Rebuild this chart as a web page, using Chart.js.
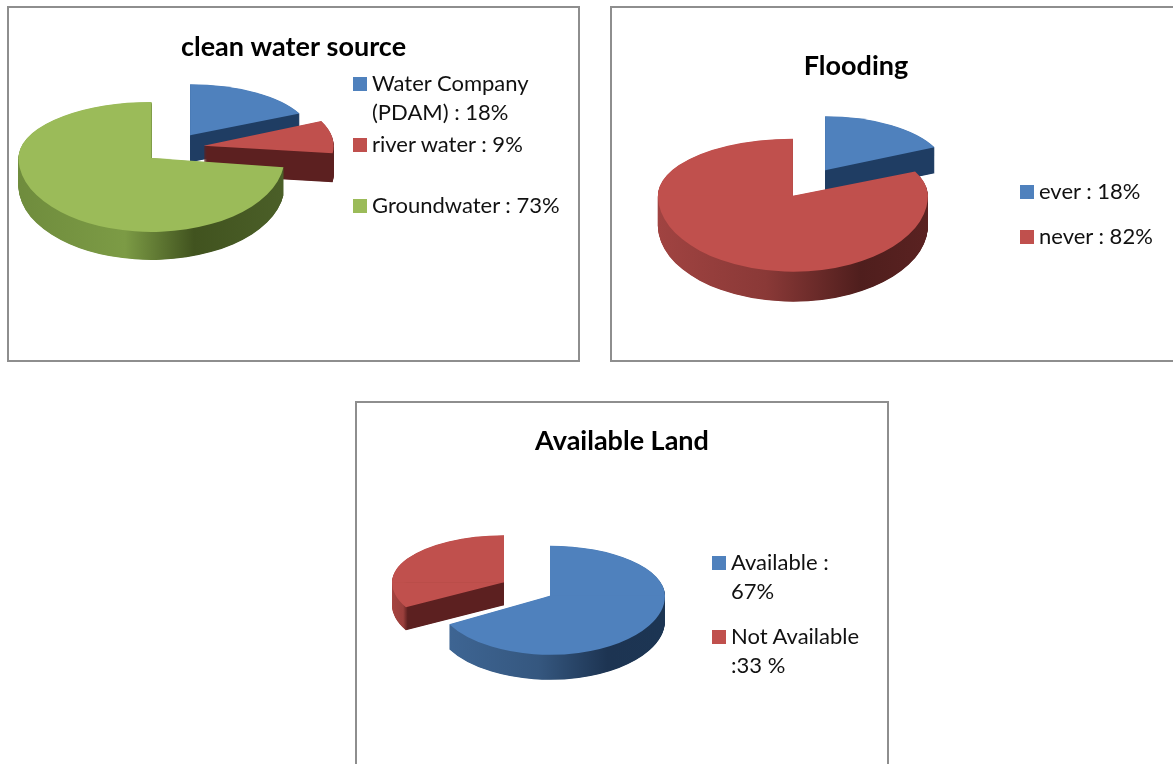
<!DOCTYPE html>
<html>
<head>
<meta charset="utf-8">
<title>Land survey pies</title>
<script src="https://cdn.jsdelivr.net/npm/chart.js@4"></script>
<style>
  html, body { margin: 0; padding: 0; width: 1173px; height: 764px; overflow: hidden; background: #fff; }
  .panel { position: absolute; outline: 2px solid #8e8e8e; outline-offset: -2px; background: #fff; }
  .panel canvas { position: absolute; left: 0; top: 0; }
  .legend-item { position: absolute; font: 22px/29px Lato, sans-serif; color: #111; white-space: pre-line; }
  .legend-item i { position: absolute; left: -19px; top: 9px; width: 14px; height: 14px; }
</style>
</head>
<body>
<div class="panel" style="left:7px;top:6px;width:573px;height:356px"><canvas id="water" width="573" height="356"></canvas></div>
<div class="panel" style="left:610px;top:6px;width:640px;height:356px"><canvas id="flood" width="492" height="356"></canvas></div>
<div class="panel" style="left:355px;top:401px;width:534px;height:420px"><canvas id="land" width="534" height="420"></canvas></div>
<script>
// DATA
const waterLabels = ["Water Company\n(PDAM) : 18%", "river water : 9%", "Groundwater : 73%"];
const waterValues = [18, 9, 73];
const floodLabels = ["ever : 18%", "never : 82%"];
const floodValues = [18, 82];
const landLabels = ["Available :\n67%", "Not Available\n:33 %"];
const landValues = [67, 33];

// COLORS
const BLUE = "#4f81bd", RED = "#c0504d", GREEN = "#9bbb59";
const blueWall = [[0, "#3f6796"], [0.45, "#35577f"], [0.75, "#1d3452"], [1, "#1c3553"]];
const redWall = [[0, "#a04341"], [0.4, "#8a3937"], [0.75, "#4f1e1d"], [1, "#5a2221"]];
const greenWall = [[0, "#6f8c3d"], [0.4, "#7c9b45"], [0.66, "#41531f"], [1, "#4b5f28"]];
const blueFace = [[0, "#1f3d63"], [1, "#1f3d63"]];
const redFace = [[0, "#5c2020"], [1, "#5c2020"]];
const redFaceLeft = [[0, "#a5433f"], [0.05, "#9a3f3c"], [0.07, "#5c2020"], [1, "#5c2020"]];

// DRAW ONE SLICE THROUGH ITS OWN ARC ELEMENT, SQUASHED INTO A PERSPECTIVE VIEW
function drawSlice(chart, arc, look, view, fill, drop) {
  const ctx = chart.ctx;
  const r = arc.outerRadius;
  const mid = (arc.startAngle + arc.endAngle) / 2;
  const tipX = view.center.x + Math.cos(mid) * view.explode;
  const tipY = view.center.y + Math.sin(mid) * view.explode * view.tilt + drop;

  let style = fill;
  if (Array.isArray(fill)) {
    style = ctx.createLinearGradient(arc.x - r, 0, arc.x + r, 0);
    fill.forEach((s) => style.addColorStop(s[0], s[1]));
  }
  const saved = arc.options;
  arc.options = Object.create(saved, { backgroundColor: { value: style } });

  [[look.up, 0, tipY + 0.5], [look.down, tipY, chart.height]].forEach((half) => {
    ctx.save();
    ctx.beginPath();
    ctx.rect(0, half[1], chart.width, half[2] - half[1]);
    ctx.clip();
    ctx.translate(tipX, tipY);
    ctx.scale(look.rx / r, half[0] / r);
    ctx.translate(-arc.x, -arc.y);
    arc.draw(ctx);
    ctx.restore();
  });
  arc.options = saved;
}

const pie3d = {
  id: "pie3d",
  beforeDatasetsDraw(chart, args, opts) {
    chart.getDatasetMeta(0).data.forEach((arc, i) => {
      const look = opts.looks[i];
      for (let d = look.depth; d >= 0.5; d -= 0.5) {
        drawSlice(chart, arc, look, opts, look.wall, d);
      }
      drawSlice(chart, arc, look, opts, arc.options.backgroundColor, 0);
    });
    return false;
  },
};

function makePie(id, labels, values, colors, titleText, titleTop, view) {
  return new Chart(document.getElementById(id), {
    type: "pie",
    plugins: [pie3d],
    data: {
      labels: labels,
      datasets: [{ data: values, backgroundColor: colors, borderWidth: 0 }],
    },
    options: {
      responsive: false,
      animation: false,
      radius: 118,
      plugins: {
        legend: { display: false },
        tooltip: { enabled: false },
        title: {
          display: true,
          text: titleText,
          color: "#000",
          font: { family: "Lato", size: 27, weight: "bold", lineHeight: 1.2 },
          padding: { top: titleTop, bottom: 0 },
        },
        pie3d: view,
      },
    },
  });
}

// HTML LEGEND, PLACED BESIDE EACH PIE
function fillLegend(id, labels, colors, left, tops) {
  const panel = document.getElementById(id).parentNode;
  labels.forEach((label, i) => {
    const item = document.createElement("div");
    item.className = "legend-item";
    item.style.left = left + "px";
    item.style.top = tops[i] + "px";
    item.textContent = label;
    const box = document.createElement("i");
    box.style.background = colors[i];
    item.appendChild(box);
    panel.appendChild(item);
  });
}

const waterColors = [BLUE, RED, GREEN];
const floodColors = [BLUE, RED];
const landColors = [BLUE, RED];

makePie("water", waterLabels, waterValues, waterColors, "clean water source", 25, {
  center: { x: 167, y: 142 }, explode: 30, tilt: 0.5,
  looks: [
    { rx: 121, up: 51, down: 51, depth: 27, wall: blueFace },
    { rx: 130, up: 58, down: 60, depth: 29, wall: redFace },
    { rx: 133, up: 56, down: 74, depth: 28, wall: greenWall },
  ],
});
makePie("flood", floodLabels, floodValues, floodColors, "Flooding", 44, {
  center: { x: 199, y: 177 }, explode: 30, tilt: 0.5,
  looks: [
    { rx: 121, up: 54, down: 52, depth: 26, wall: blueFace },
    { rx: 135, up: 57, down: 76, depth: 30, wall: redWall },
  ],
});
makePie("land", landLabels, landValues, landColors, "Available Land", 24, {
  center: { x: 172, y: 188 }, explode: 26.7, tilt: 0.5,
  looks: [
    { rx: 115, up: 50, down: 59, depth: 25, wall: blueWall },
    { rx: 112, up: 47, down: 52, depth: 23, wall: redFaceLeft },
  ],
});

fillLegend("water", waterLabels, waterColors, 365, [62, 123, 184]);
fillLegend("flood", floodLabels, floodColors, 429, [170, 215]);
fillLegend("land", landLabels, landColors, 376, [146, 220]);
</script>
</body>
</html>
